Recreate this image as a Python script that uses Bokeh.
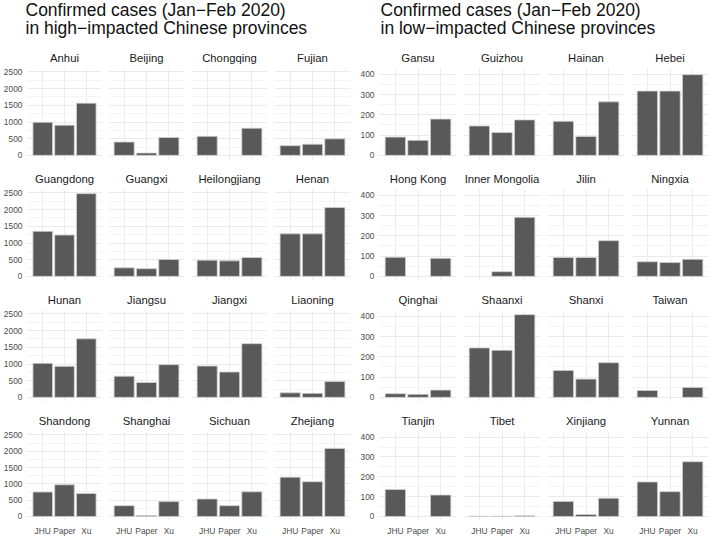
from bokeh.plotting import figure
from bokeh.layouts import column, row
from bokeh.models import Range1d, FactorRange, FixedTicker, Label
from bokeh.embed import file_html
from bokeh.resources import INLINE

# ---------------- data ----------------
sources = ["JHU", "Paper", "Xu"]

high_title = ["Confirmed cases (Jan\u2212Feb 2020)", "in high\u2212impacted Chinese provinces"]
high_provinces = ["Anhui", "Beijing", "Chongqing", "Fujian",
                  "Guangdong", "Guangxi", "Heilongjiang", "Henan",
                  "Hunan", "Jiangsu", "Jiangxi", "Liaoning",
                  "Shandong", "Shanghai", "Sichuan", "Zhejiang"]
high_jhu = [990, 400, 570, 290, 1350, 255, 485, 1275, 1020, 635, 940, 135, 750, 330, 535, 1205]
high_paper = [905, 70, None, 335, 1240, 230, 465, 1275, 930, 445, 760, 120, 970, 30, 330, 1065]
high_xu = [1565, 535, 815, 495, 2480, 505, 565, 2065, 1755, 980, 1610, 475, 705, 455, 755, 2085]
high_ticks = [0, 500, 1000, 1500, 2000, 2500]
high_minor = [250, 750, 1250, 1750, 2250]

low_title = ["Confirmed cases (Jan\u2212Feb 2020)", "in low\u2212impacted Chinese provinces"]
low_provinces = ["Gansu", "Guizhou", "Hainan", "Hebei",
                 "Hong Kong", "Inner Mongolia", "Jilin", "Ningxia",
                 "Qinghai", "Shaanxi", "Shanxi", "Taiwan",
                 "Tianjin", "Tibet", "Xinjiang", "Yunnan"]
low_jhu = [90, 145, 168, 317, 94, None, 93, 72, 18, 244, 133, 34, 136, 1, 76, 174]
low_paper = [74, 113, 93, 317, None, 23, 93, 68, 15, 232, 90, None, None, 1, 10, 125]
low_xu = [179, 175, 264, 398, 89, 291, 176, 84, 36, 408, 171, 49, 108, 4, 92, 276]
low_ticks = [0, 100, 200, 300, 400]
low_minor = [50, 150, 250, 350]

# ---------------- style ----------------
FONT = "Liberation Sans"
FRAME_H = 91
TOP = 26
HEADER_H = 42


def facet(name, vals, ymax, ticks, minor, first_col, last_row, geom):
    border_left, frame_w, gap_l, gap_r, last_gap_r, is_last_col = geom
    left = border_left if first_col else gap_l
    right = last_gap_r if is_last_col else gap_r
    bottom = 16 if last_row else 4
    p = figure(
        x_range=FactorRange(factors=sources, range_padding=0.2, range_padding_units="absolute"),
        y_range=Range1d(-0.05 * ymax, 1.05 * ymax),
        width=left + frame_w + right, height=TOP + FRAME_H + bottom,
        min_border_left=left, min_border_right=right,
        min_border_top=TOP, min_border_bottom=bottom,
        output_backend="svg", toolbar_location=None, title=name,
    )
    xs = [s for s, v in zip(sources, vals) if v is not None]
    ys = [v for v in vals if v is not None]
    p.vbar(x=xs, top=ys, bottom=0, width=0.9, fill_color="#595959",
           line_color="#d0d0d0", line_width=0.8)

    p.title.align = "center"
    p.title.text_font = FONT
    p.title.text_font_size = "11.3px"
    p.title.text_font_style = "normal"
    p.title.text_color = "#1a1a1a"

    tk = FixedTicker(ticks=ticks, minor_ticks=minor)
    p.yaxis.ticker = tk
    p.ygrid.ticker = tk
    for ax in (p.xaxis[0], p.yaxis[0]):
        ax.axis_line_color = None
        ax.major_tick_line_color = None
        ax.minor_tick_line_color = None
        ax.major_tick_out = 0
        ax.major_tick_in = 0
        ax.minor_tick_out = 0
        ax.minor_tick_in = 0
        ax.axis_label_standoff = 0
        ax.major_label_text_font = FONT
        ax.major_label_text_font_size = "8.4px"
        ax.major_label_text_color = "#4d4d4d"
    p.yaxis.major_label_standoff = 5
    p.xaxis.major_label_standoff = 5
    p.xaxis.visible = last_row
    p.yaxis.visible = first_col

    p.xgrid.grid_line_color = "#ebebeb"
    p.ygrid.grid_line_color = "#ebebeb"
    p.ygrid.minor_grid_line_color = "#f4f4f4"
    p.outline_line_color = None
    p.background_fill_color = "white"
    p.border_fill_color = "white"
    return p


def panel(title_lines, provinces, jhu, paper, xu, ticks, minor,
          border_left, frame_w, gap_l, gap_r, last_gap_r, title_x):
    ymax = max(v for v in jhu + paper + xu if v is not None)
    total_w = (border_left + frame_w + gap_r) + 2 * (gap_l + frame_w + gap_r) \
        + (gap_l + frame_w + last_gap_r)
    head = figure(width=total_w, height=HEADER_H, x_range=Range1d(0, total_w),
                  y_range=Range1d(0, HEADER_H), min_border=0,
                  output_backend="svg", toolbar_location=None)
    head.axis.visible = False
    head.grid.visible = False
    head.outline_line_color = None
    for txt, yy in zip(title_lines, [32.5, 14.3]):
        head.add_layout(Label(x=title_x, y=yy, text=txt, text_font=FONT,
                              text_font_size="17.5px", text_color="#111111",
                              text_baseline="alphabetic", text_align="left"))
    rows = [head]
    for r in range(4):
        figs = []
        for c in range(4):
            i = r * 4 + c
            geom = (border_left, frame_w, gap_l, gap_r, last_gap_r, c == 3)
            figs.append(facet(provinces[i], [jhu[i], paper[i], xu[i]], ymax, ticks, minor,
                              c == 0, r == 3, geom))
        rows.append(row(*figs, spacing=0))
    return column(*rows, spacing=0)


left = panel(high_title, high_provinces, high_jhu, high_paper, high_xu,
             high_ticks, high_minor, 25, 76, 3, 4, 4, 25)
right = panel(low_title, low_provinces, low_jhu, low_paper, low_xu,
              low_ticks, low_minor, 25, 77, 3, 4, 3, 26)
p = row(left, right, spacing=0)

open("out.html", "w").write(file_html(p, INLINE))
